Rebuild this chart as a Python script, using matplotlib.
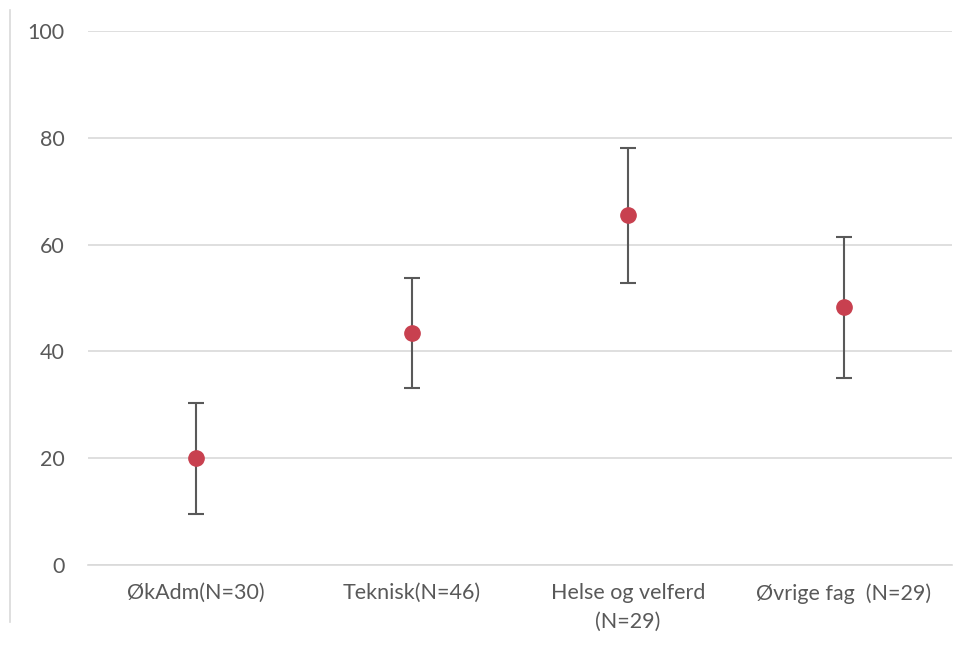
import matplotlib.pyplot as plt
from matplotlib.lines import Line2D

# values
categories = ["ØkAdm(N=30)", "Teknisk(N=46)", "Helse og velferd\n(N=29)", "Øvrige fag  (N=29)"]
means = [20.0, 43.4, 65.5, 48.3]
upper = [30.3, 53.7, 78.1, 61.4]
lower = [9.6, 33.1, 52.8, 35.0]

plt.rcParams['font.family'] = ['Lato', 'DejaVu Sans']

fig = plt.figure(figsize=(9.66, 6.51), dpi=100)
ax = fig.add_axes([0.091, 0.1321, 0.8945, 0.8203])

x = list(range(len(categories)))
err_lo = [m - l for m, l in zip(means, lower)]
err_hi = [u - m for m, u in zip(means, upper)]

ax.errorbar(x, means, yerr=[err_lo, err_hi], fmt="none", ecolor="#595959",
            elinewidth=1.5, capsize=6, capthick=1.5, zorder=3)
ax.plot(x, means, "o", color="#C8404F", markersize=11, zorder=4)

ax.set_xlim(-0.5, len(categories) - 0.5)
ax.set_ylim(0, 100)
ax.set_yticks(range(0, 101, 20))
ax.set_xticks(x)
ax.set_xticklabels(categories, linespacing=1.55)
ax.grid(axis="y", color="#D9D9D9", linewidth=1.2)
ax.set_axisbelow(True)
for s in ["top", "right", "left"]:
    ax.spines[s].set_visible(False)
ax.spines["bottom"].set_color("#D9D9D9")
ax.spines["bottom"].set_linewidth(1.2)
ax.tick_params(axis="both", length=0, labelsize=15.5, colors="#595959")
ax.tick_params(axis="x", pad=13)
ax.tick_params(axis="y", pad=17)

# thin frame line at the left edge
fig.add_artist(Line2D([0.0105, 0.0105], [0.045, 0.985], color="#D9D9D9", linewidth=1.2))

fig.savefig("out.png", dpi=100, facecolor="white")
